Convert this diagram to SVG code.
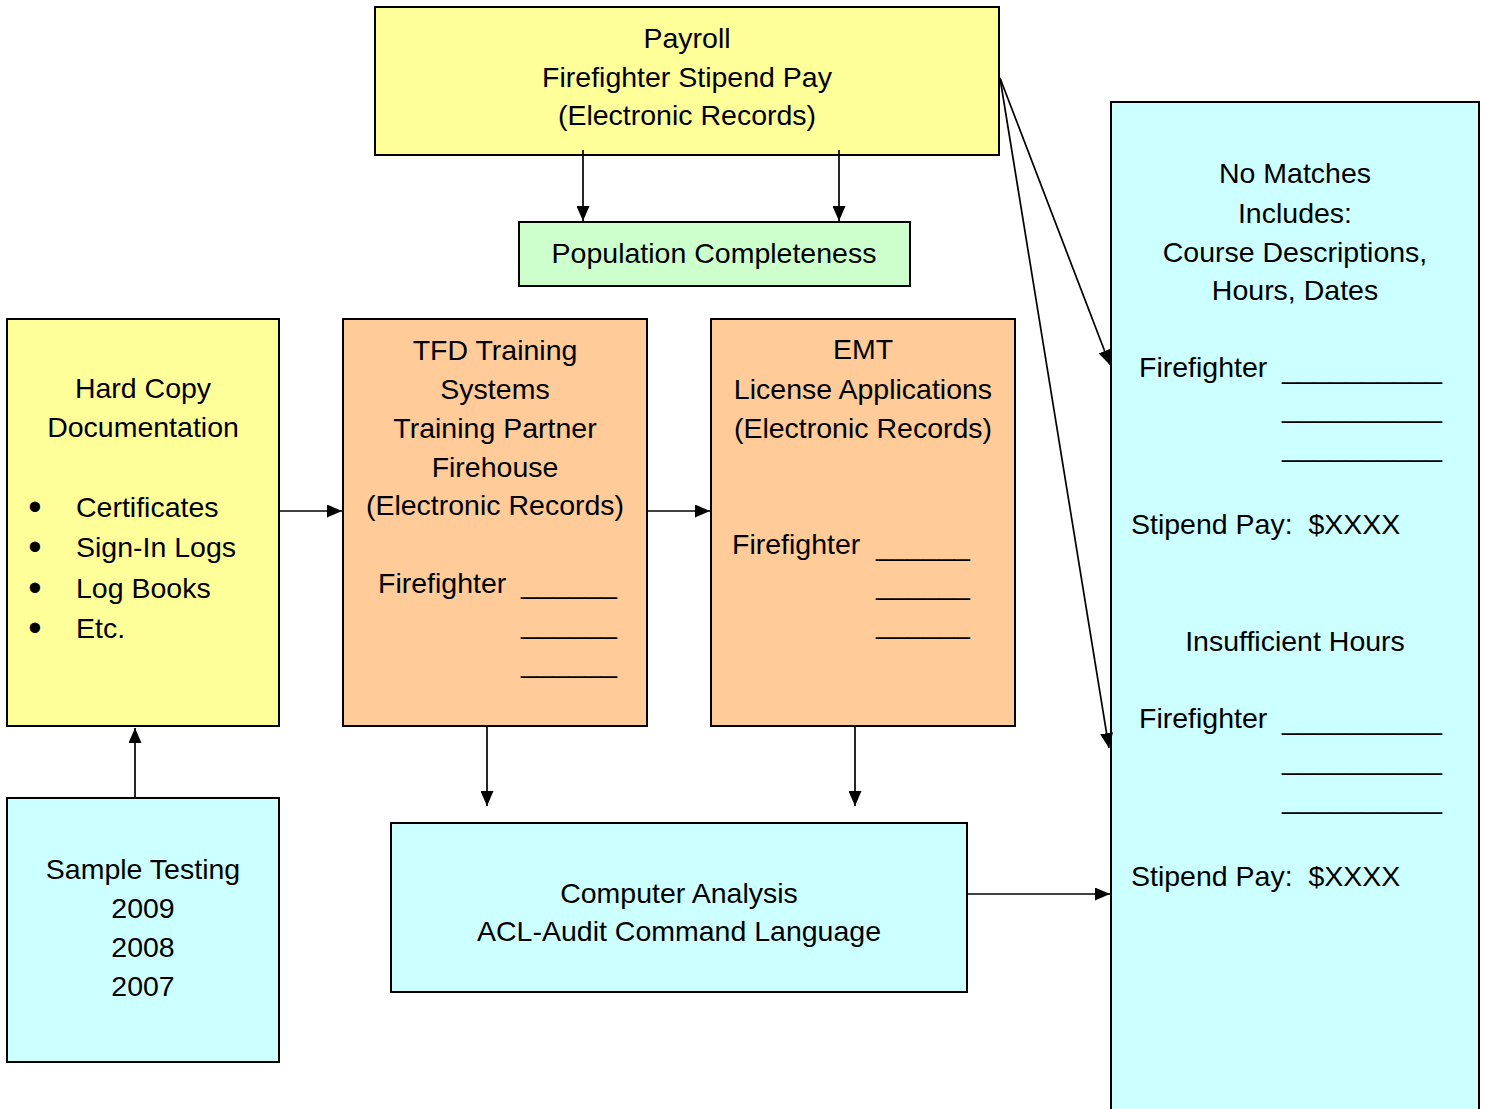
<svg xmlns="http://www.w3.org/2000/svg" width="1485" height="1109" viewBox="0 0 1485 1109">
<defs>
<style>
text{font-family:"Liberation Sans",Arial,sans-serif;font-size:28.5px;fill:#000}
.c{text-anchor:middle}
.b{font-size:38px;text-anchor:middle}
.box{stroke:#000;stroke-width:2}
.yel{fill:#FFFF99}
.grn{fill:#CCFFCC}
.org{fill:#FFCC99}
.cyn{fill:#CCFFFF}
.con{stroke:#000;stroke-width:1.7;fill:none;marker-end:url(#ah)}
</style>
<marker id="ah" markerUnits="userSpaceOnUse" markerWidth="15" markerHeight="13" refX="15" refY="6.5" orient="auto">
<path d="M0,0 L15,6.5 L0,13 z" fill="#000"/>
</marker>
</defs>
<rect width="1485" height="1109" fill="#fff"/>

<g id="payroll">
<rect class="box yel" x="375" y="7" width="624" height="148"/>
<text class="c" x="687" y="48">Payroll</text>
<text class="c" x="687" y="87">Firefighter Stipend Pay</text>
<text class="c" x="687" y="125">(Electronic Records)</text>
</g>

<g id="population">
<rect class="box grn" x="519" y="222" width="391" height="64"/>
<text class="c" x="714" y="263">Population Completeness</text>
</g>

<g id="hardcopy">
<rect class="box yel" x="7" y="319" width="272" height="407"/>
<text class="c" x="143" y="398">Hard Copy</text>
<text class="c" x="143" y="437">Documentation</text>
<text class="b" x="35" y="520">•</text>
<text x="76" y="517">Certificates</text>
<text class="b" x="35" y="560">•</text>
<text x="76" y="557">Sign-In Logs</text>
<text class="b" x="35" y="601">•</text>
<text x="76" y="598">Log Books</text>
<text class="b" x="35" y="641">•</text>
<text x="76" y="638">Etc.</text>
</g>

<g id="tfd">
<rect class="box org" x="343" y="319" width="304" height="407"/>
<text class="c" x="495" y="360">TFD Training</text>
<text class="c" x="495" y="399">Systems</text>
<text class="c" x="495" y="438">Training Partner</text>
<text class="c" x="495" y="477">Firehouse</text>
<text class="c" x="495" y="515">(Electronic Records)</text>
<text x="378" y="593">Firefighter</text>
<text x="521" y="593" textLength="96" lengthAdjust="spacingAndGlyphs">______</text>
<text x="521" y="633" textLength="96" lengthAdjust="spacingAndGlyphs">______</text>
<text x="521" y="672" textLength="96" lengthAdjust="spacingAndGlyphs">______</text>
</g>

<g id="emt">
<rect class="box org" x="711" y="319" width="304" height="407"/>
<text class="c" x="863" y="359">EMT</text>
<text class="c" x="863" y="399">License Applications</text>
<text class="c" x="863" y="438">(Electronic Records)</text>
<text x="732" y="554">Firefighter</text>
<text x="876" y="555" textLength="94" lengthAdjust="spacingAndGlyphs">______</text>
<text x="876" y="594" textLength="94" lengthAdjust="spacingAndGlyphs">______</text>
<text x="876" y="633" textLength="94" lengthAdjust="spacingAndGlyphs">______</text>
</g>

<g id="sample">
<rect class="box cyn" x="7" y="798" width="272" height="264"/>
<text class="c" x="143" y="879">Sample Testing</text>
<text class="c" x="143" y="918">2009</text>
<text class="c" x="143" y="957">2008</text>
<text class="c" x="143" y="996">2007</text>
</g>

<g id="computer">
<rect class="box cyn" x="391" y="823" width="576" height="169"/>
<text class="c" x="679" y="903">Computer Analysis</text>
<text class="c" x="679" y="941">ACL-Audit Command Language</text>
</g>

<g id="results">
<rect class="box cyn" x="1111" y="102" width="368" height="1020"/>
<text class="c" x="1295" y="183">No Matches</text>
<text class="c" x="1295" y="223">Includes:</text>
<text class="c" x="1295" y="262">Course Descriptions,</text>
<text class="c" x="1295" y="300">Hours, Dates</text>
<text x="1139" y="377">Firefighter</text>
<text x="1282" y="378" textLength="160" lengthAdjust="spacingAndGlyphs">__________</text>
<text x="1282" y="417" textLength="160" lengthAdjust="spacingAndGlyphs">__________</text>
<text x="1282" y="456" textLength="160" lengthAdjust="spacingAndGlyphs">__________</text>
<text x="1131" y="534">Stipend Pay:&#160; $XXXX</text>
<text class="c" x="1295" y="651">Insufficient Hours</text>
<text x="1139" y="728">Firefighter</text>
<text x="1282" y="729" textLength="160" lengthAdjust="spacingAndGlyphs">__________</text>
<text x="1282" y="769" textLength="160" lengthAdjust="spacingAndGlyphs">__________</text>
<text x="1282" y="808" textLength="160" lengthAdjust="spacingAndGlyphs">__________</text>
<text x="1131" y="886">Stipend Pay:&#160; $XXXX</text>
</g>

<g id="connectors">
<line class="con" x1="583" y1="150" x2="583" y2="221"/>
<line class="con" x1="839" y1="150" x2="839" y2="221"/>
<line class="con" x1="280" y1="511" x2="342" y2="511"/>
<line class="con" x1="648" y1="511" x2="710" y2="511"/>
<line class="con" x1="135" y1="797" x2="135" y2="728"/>
<line class="con" x1="487" y1="727" x2="487" y2="806"/>
<line class="con" x1="855" y1="727" x2="855" y2="806"/>
<line class="con" x1="968" y1="894" x2="1110" y2="894"/>
<line class="con" x1="1000" y1="78" x2="1110" y2="365"/>
<line class="con" x1="1000" y1="78" x2="1109" y2="748"/>
</g>
</svg>
